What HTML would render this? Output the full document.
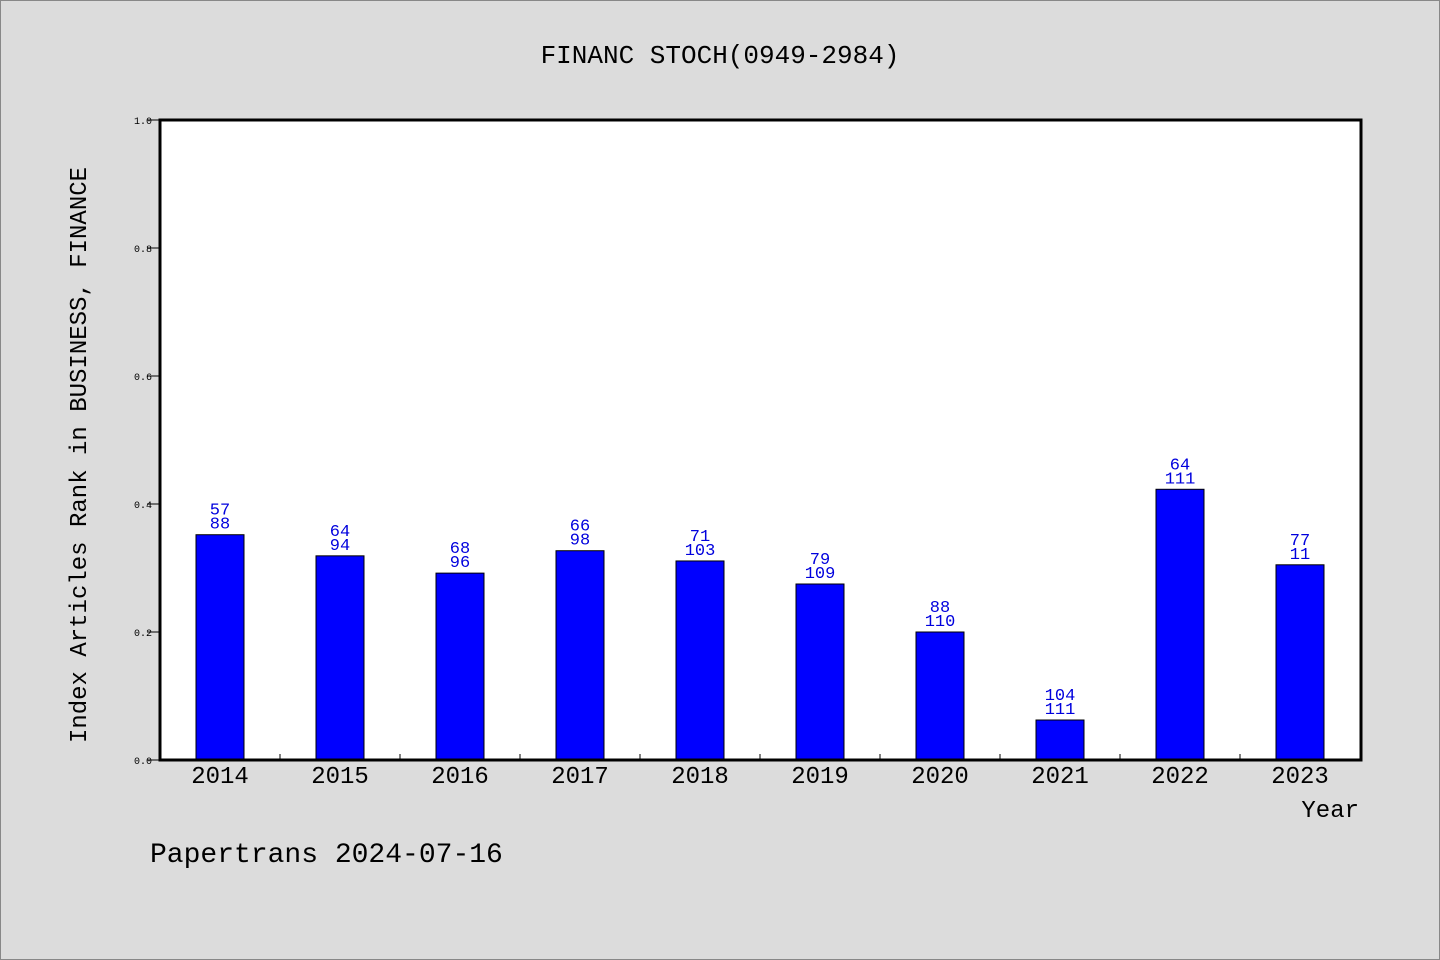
<!DOCTYPE html>
<html><head><meta charset="utf-8"><style>
body{margin:0;background:#dcdcdc;}
svg{display:block;font-family:"WenQuanYi Zen Hei","Liberation Mono",monospace;}
</style></head><body>
<svg id="chart" width="1440" height="960">
<rect x="0.5" y="0.5" width="1439" height="959" fill="#dcdcdc" stroke="#888"/>
<text x="720" y="63" text-anchor="middle" font-size="26" fill="#000">FINANC STOCH(0949-2984)</text>
<rect x="160" y="120" width="1201" height="640" fill="#fff"/>
<g id="marks"></g>
<rect x="160" y="120" width="1201" height="640" fill="none" stroke="#000" stroke-width="3"/>
<text transform="translate(86,455) rotate(-90)" text-anchor="middle" font-size="24" fill="#000">Index Articles Rank in BUSINESS, FINANCE</text>
<text x="1359" y="817" text-anchor="end" font-size="24" fill="#000">Year</text>
<text x="150" y="862" font-size="28" fill="#000">Papertrans 2024-07-16</text>
</svg>
<script>
const years=["2014","2015","2016","2017","2018","2019","2020","2021","2022","2023"];
const values=[0.352,0.319,0.292,0.327,0.311,0.275,0.2,0.0625,0.423,0.305];
const ranks=["57","64","68","66","71","79","88","104","64","77"];
const totals=["88","94","96","98","103","109","110","111","111","11"];
const yTicks=["0.0","0.2","0.4","0.6","0.8","1.0"];
const NS="http://www.w3.org/2000/svg";
const g=document.getElementById('marks');
const x0=160,x1=1361,yb=760,yt=120,step=120;
const ys=v=>yb-(v/1.0)*(yb-yt);
const xc=i=>x0+step*(i+0.5);
function mk(t,a){const e=document.createElementNS(NS,t);for(const k in a)e.setAttribute(k,a[k]);g.appendChild(e);return e;}
yTicks.forEach((t,i)=>{
  const v=parseFloat(t),y=ys(v);
  const l=mk('line',{x1:147,x2:160,y1:y,y2:y,stroke:'#000','stroke-width':1});
  
  
  const tx=mk('text',{x:152,y:y+4,'text-anchor':'end','font-size':10,fill:'#000'});
  
  
  tx.textContent=t;
});
years.forEach((yr,i)=>{
  if(i>0){
    const l=mk('line',{x1:x0+step*i,x2:x0+step*i,y1:754,y2:760,stroke:'#000','stroke-width':1});
    
    
  }
  const c=xc(i),top=ys(values[i]);
  const r=mk('rect',{x:c-24,y:top,width:48,height:yb-top,fill:'#0000ff',stroke:'#000','stroke-width':1});
  
  
  const a=mk('text',{x:c,y:top-20,'text-anchor':'middle','font-size':17,fill:'#0000dd'});
  
  
  a.textContent=ranks[i];
  const b=mk('text',{x:c,y:top-6,'text-anchor':'middle','font-size':17,fill:'#0000dd'});
  
  
  b.textContent=totals[i];
  const xl=mk('text',{x:c,y:783,'text-anchor':'middle','font-size':24,fill:'#000'});
  
  
  xl.textContent=yr;
});
</script>
</body></html>
